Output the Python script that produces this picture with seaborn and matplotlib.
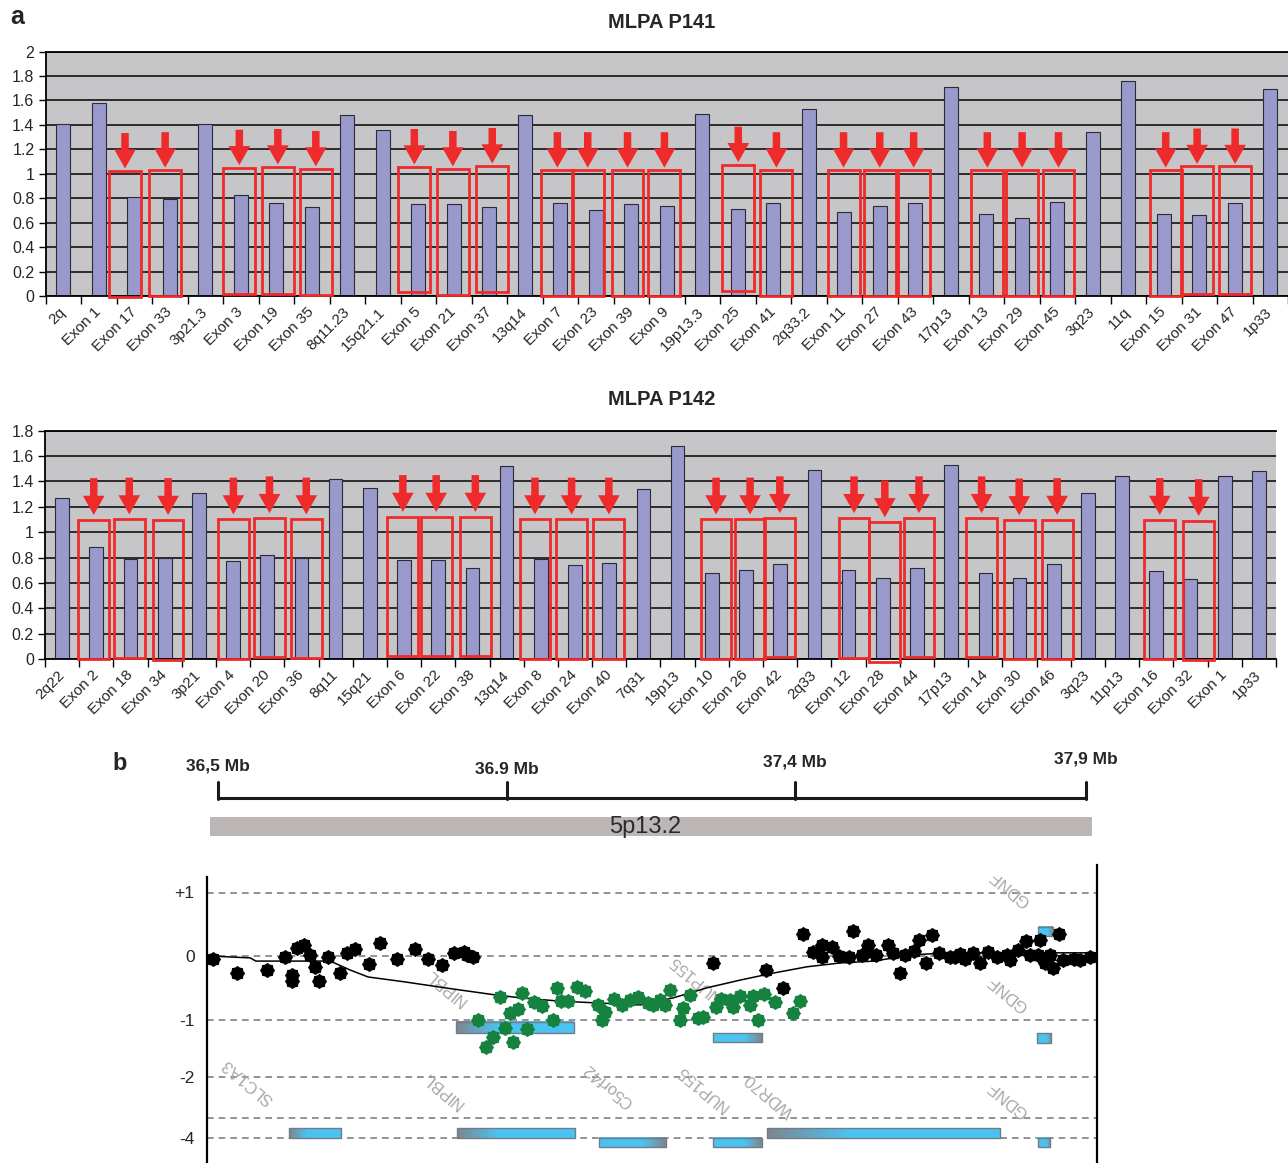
import numpy as np
import pandas as pd
import matplotlib
matplotlib.use('Agg')
import matplotlib.pyplot as plt
import matplotlib.colors as mcolors
from matplotlib.patches import Rectangle
import seaborn as sns

sns.set_theme(style='white')
plt.rcParams['font.family'] = ['Liberation Sans', 'DejaVu Sans']

# ---------------- data: panel a, MLPA P141 ----------------
p141_labels = ['2q', 'Exon 1', 'Exon 17', 'Exon 33', '3p21.3', 'Exon 3', 'Exon 19', 'Exon 35',
               '8q11.23', '15q21.1', 'Exon 5', 'Exon 21', 'Exon 37', '13q14', 'Exon 7', 'Exon 23',
               'Exon 39', 'Exon 9', '19p13.3', 'Exon 25', 'Exon 41', '2q33.2', 'Exon 11', 'Exon 27',
               'Exon 43', '17p13', 'Exon 13', 'Exon 29', 'Exon 45', '3q23', '11q', 'Exon 15',
               'Exon 31', 'Exon 47', '1p33']
p141_values = [1.41, 1.58, 0.81, 0.79, 1.41, 0.83, 0.76, 0.73, 1.48, 1.36, 0.75, 0.75, 0.73, 1.48,
               0.76, 0.70, 0.75, 0.74, 1.49, 0.71, 0.76, 1.53, 0.69, 0.74, 0.76, 1.71, 0.67, 0.64,
               0.77, 1.34, 1.76, 0.67, 0.66, 0.76, 1.69]
# probes flagged with a red frame and arrow
p141_flag = ['Exon 17', 'Exon 33', 'Exon 3', 'Exon 19', 'Exon 35', 'Exon 5', 'Exon 21', 'Exon 37',
             'Exon 7', 'Exon 23', 'Exon 39', 'Exon 9', 'Exon 25', 'Exon 41', 'Exon 11', 'Exon 27',
             'Exon 43', 'Exon 13', 'Exon 29', 'Exon 45', 'Exon 15', 'Exon 31', 'Exon 47']
p141_flag_shift = [-0.26, -0.13, -0.04, 0.045, 0.115, -0.11, -0.025, 0.085, -0.08, -0.225, -0.105,
                   -0.065, 0.015, 0.09, -0.02, 0.0, -0.045, 0.03, 0.01, 0.035, 0.055, -0.06, 0.01]
p141_flag_top = [1.023, 1.03, 1.05, 1.056, 1.04, 1.056, 1.04, 1.064, 1.03, 1.03, 1.03, 1.03, 1.075,
                 1.03, 1.03, 1.03, 1.03, 1.03, 1.03, 1.03, 1.03, 1.06, 1.06]
p141_flag_bottom = [-0.01, 0.0, 0.02, 0.02, 0.01, 0.03, 0.01, 0.03, 0.0, 0.0, 0.0, 0.0, 0.04, 0.0,
                    0.0, 0.0, 0.0, 0.0, 0.0, 0.0, 0.0, 0.02, 0.02]

# ---------------- data: panel a, MLPA P142 ----------------
p142_labels = ['2q22', 'Exon 2', 'Exon 18', 'Exon 34', '3p21', 'Exon 4', 'Exon 20', 'Exon 36', '8q11',
               '15q21', 'Exon 6', 'Exon 22', 'Exon 38', '13q14', 'Exon 8', 'Exon 24', 'Exon 40', '7q31',
               '19p13', 'Exon 10', 'Exon 26', 'Exon 42', '2q33', 'Exon 12', 'Exon 28', 'Exon 44',
               '17p13', 'Exon 14', 'Exon 30', 'Exon 46', '3q23', '11p13', 'Exon 16', 'Exon 32',
               'Exon 1', '1p33']
p142_values = [1.27, 0.88, 0.79, 0.80, 1.31, 0.77, 0.82, 0.80, 1.42, 1.35, 0.78, 0.78, 0.72, 1.52,
               0.79, 0.74, 0.76, 1.34, 1.68, 0.68, 0.70, 0.75, 1.49, 0.70, 0.64, 0.72, 1.53, 0.68,
               0.64, 0.75, 1.31, 1.44, 0.69, 0.63, 1.44, 1.48]
p142_flag = ['Exon 2', 'Exon 18', 'Exon 34', 'Exon 4', 'Exon 20', 'Exon 36', 'Exon 6', 'Exon 22',
             'Exon 38', 'Exon 8', 'Exon 24', 'Exon 40', 'Exon 10', 'Exon 26', 'Exon 42', 'Exon 12',
             'Exon 28', 'Exon 44', 'Exon 14', 'Exon 30', 'Exon 46', 'Exon 16', 'Exon 32']
p142_flag_shift = [-0.075, -0.035, 0.10, 0.01, 0.065, 0.14, -0.035, -0.06, 0.085, -0.17, -0.10, -0.01,
                   0.125, 0.12, -0.01, 0.16, 0.06, 0.06, -0.11, -0.01, 0.10, 0.10, 0.24]
p142_flag_top = [1.096, 1.10, 1.096, 1.10, 1.11, 1.10, 1.12, 1.12, 1.12, 1.10, 1.10, 1.10, 1.10, 1.10,
                 1.11, 1.11, 1.077, 1.11, 1.11, 1.093, 1.096, 1.096, 1.088]
p142_flag_bottom = [0.0, 0.005, -0.01, 0.0, 0.013, 0.008, 0.024, 0.024, 0.024, 0.0, 0.0, 0.0, 0.0, 0.0,
                    0.013, 0.008, -0.02, 0.013, 0.018, -0.003, -0.003, 0.0, -0.008]

# ---------------- data: panel b, 5p13.2 array CGH ----------------
scale_pos = [36.5, 36.966, 37.431, 37.9]
scale_text = ['36,5 Mb', '36.9 Mb', '37,4 Mb', '37,9 Mb']

normal_mb = [36.492, 36.530, 36.579, 36.608, 36.619, 36.619, 36.627, 36.638, 36.648, 36.656, 36.663,
             36.678, 36.697, 36.708, 36.721, 36.744, 36.762, 36.789, 36.818, 36.839, 36.861, 36.880,
             36.896, 36.901, 36.912,
             37.298, 37.384, 37.412, 37.444, 37.459, 37.474, 37.491, 37.502, 37.518, 37.525, 37.538,
             37.549, 37.546, 37.562, 37.581, 37.589, 37.600, 37.623, 37.631, 37.651, 37.642, 37.663,
             37.680, 37.697, 37.705, 37.718, 37.729, 37.742, 37.756, 37.772, 37.791, 37.804, 37.826,
             37.810, 37.823, 37.834, 37.847, 37.857, 37.863, 37.880, 37.906, 37.608, 37.689, 37.777,
             37.842, 37.890, 37.474]
normal_ratio = [-0.05, -0.27, -0.22, -0.02, -0.30, -0.40, 0.12, 0.17, 0.02, -0.17, -0.39,
                -0.02, -0.26, 0.04, 0.11, -0.13, 0.20, -0.05, 0.11, -0.05, -0.14, 0.04,
                0.07, 0.02, -0.02,
                -0.11, -0.22, -0.51, 0.35, 0.07, -0.01, 0.14, 0.00, -0.02, 0.40, 0.02,
                0.17, 0.07, 0.02, 0.17, 0.05, -0.27, 0.08, 0.25, 0.33, -0.11, 0.05,
                -0.02, 0.03, -0.05, 0.04, -0.11, 0.07, -0.02, 0.02, 0.09, 0.23, 0.25,
                0.02, 0.02, -0.11, -0.19, 0.35, -0.06, -0.04, -0.01, 0.02, -0.02, -0.06,
                0.02, -0.06, 0.17]

loss_mb = [36.955, 36.920, 36.971, 36.984, 36.991, 37.009, 37.022, 36.963, 36.998, 36.943, 36.932,
           36.976, 37.040, 37.046, 37.079, 37.092, 37.054, 37.065, 37.113, 37.124, 37.120, 37.138,
           37.151, 37.165, 37.178, 37.194, 37.202, 37.221, 37.229, 37.213, 37.250, 37.245, 37.261,
           37.282, 37.275, 37.304, 37.312, 37.331, 37.326, 37.342, 37.358, 37.363, 37.380, 37.371,
           37.398, 37.427, 37.439]
loss_ratio = [-0.64, -1.01, -0.90, -0.84, -0.58, -0.72, -0.79, -1.14, -1.15, -1.28, -1.43,
              -1.35, -1.01, -0.51, -0.49, -0.55, -0.71, -0.71, -0.77, -0.88, -1.00, -0.67,
              -0.77, -0.69, -0.64, -0.74, -0.77, -0.77, -0.54, -0.69, -0.82, -1.00, -0.61,
              -0.96, -0.98, -0.81, -0.67, -0.80, -0.69, -0.63, -0.77, -0.63, -0.60, -1.01,
              -0.72, -0.89, -0.71]

trend_mb = [36.487, 36.552, 36.561, 36.681, 36.713, 36.742, 36.803, 36.865, 36.945, 36.989, 37.050,
            37.113, 37.181, 37.234, 37.289, 37.342, 37.395, 37.450, 37.503, 37.558, 37.621, 37.682,
            37.918]
trend_ratio = [0.0, -0.03, -0.08, -0.08, -0.22, -0.33, -0.41, -0.50, -0.61, -0.66, -0.71,
               -0.74, -0.77, -0.66, -0.50, -0.38, -0.27, -0.17, -0.11, -0.08, 0.02, 0.05, 0.05]

gene_start = [36.884, 37.298, 37.821, 37.823, 36.615, 36.885, 37.115, 37.298, 37.385, 37.822]
gene_end = [37.074, 37.377, 37.844, 37.847, 36.698, 37.075, 37.222, 37.377, 37.761, 37.842]
gene_low = [-1.213, -1.354, -1.370, 0.315, -2.866, -2.866, -3.008, -3.008, -2.866, -3.008]
gene_high = [-1.039, -1.213, -1.213, 0.457, -2.709, -2.709, -2.866, -2.866, -2.709, -2.866]
gene_gray_left = [True, False, False, False, True, True, False, False, True, False]

gene_label = ['NIPBL', 'NUP155', 'GDNF', 'GDNF', 'GDNF', 'SLC1A3', 'NIPBL', 'C5orf42', 'NUP155', 'WDR70']
gene_label_mb = [36.868, 37.269, 37.777, 37.774, 37.774, 36.548, 36.863, 37.129, 37.281, 37.390]
gene_label_ratio = [-0.49, -0.35, 1.07, -0.58, -2.25, -1.98, -2.11, -2.03, -2.08, -2.19]

ratio_ticks = [1, 0, -1, -1.906, -2.866]
ratio_tick_text = ['+1', '0', '-1', '-2', '-4']
ratio_dashed = [1, 0, -1, -1.906, -2.551, -2.866]

# ---------------- layout helpers (pixel -> figure fraction) ----------------
W, H = 1288, 1163
RED = '#EE2A2A'
BAR = '#9999CC'


def box(x0, y0, x1, y1):
    return [x0 / W, 1 - y1 / H, (x1 - x0) / W, (y1 - y0) / H]


fig = plt.figure(figsize=(W / 100, H / 100), dpi=100)


def mlpa_panel(rect, labels, values, ymax, flag, shift, top, bottom, tail, gap, title, title_y):
    ax = fig.add_axes(rect)
    df = pd.DataFrame({'probe': labels, 'ratio': values})
    sns.barplot(data=df, x='probe', y='ratio', order=labels, color=BAR, saturation=1,
                width=0.4, edgecolor='#2a2a3a', linewidth=0.8, ax=ax, zorder=2)
    n = len(labels)
    ax.set_xlim(-0.5, n - 0.5)
    ax.set_ylim(0, ymax)
    ax.set_facecolor('#C6C6C8')
    ticks = np.round(np.arange(0, ymax + 0.01, 0.2), 1)
    ax.set_yticks(ticks)
    ax.set_yticklabels([f'{v:g}' for v in ticks], fontsize=11.5)
    ax.yaxis.grid(True, color='#111111', lw=1.2)
    ax.set_axisbelow(True)
    ax.set_xticks(range(n))
    ax.set_xticklabels(labels, rotation=45, ha='right', va='center', rotation_mode='anchor', fontsize=11)
    ax.set_xticks(np.arange(n + 1) - 0.5, minor=True)
    ax.tick_params(axis='x', which='major', length=0, pad=10)
    ax.tick_params(axis='x', which='minor', bottom=True, length=6, width=1, direction='out', color='black')
    ax.tick_params(axis='y', left=True, length=5, width=1, direction='out', color='black', pad=3)
    ax.set_xlabel('')
    ax.set_ylabel('')
    for s in ['left', 'bottom', 'top']:
        ax.spines[s].set_color('black')
        ax.spines[s].set_linewidth(1.3)
    ax.spines['right'].set_visible(False)

    for name, dx, t, b in zip(flag, shift, top, bottom):
        xc = labels.index(name) + dx
        ax.add_patch(Rectangle((xc - 0.45, b), 0.9, t - b, fill=False, ec=RED, lw=2.0,
                               zorder=4, clip_on=False))
        ax.annotate('', xy=(xc, t + gap), xytext=(xc, t + gap + tail),
                    arrowprops=dict(arrowstyle='simple,head_width=1.3,head_length=1.15,tail_width=0.45',
                                    color=RED, lw=0, shrinkA=0, shrinkB=0),
                    annotation_clip=False, zorder=5)
    fig.text(662 / W, 1 - title_y / H, title, ha='center', va='center', fontsize=14.5, fontweight='bold')
    return ax


mlpa_panel(box(45.5, 51.5, 1288, 296), p141_labels, p141_values, 2.0, p141_flag, p141_flag_shift,
           p141_flag_top, p141_flag_bottom, 0.29, 0.02, 'MLPA P141', 22)
mlpa_panel(box(45, 430.7, 1276, 659), p142_labels, p142_values, 1.8, p142_flag, p142_flag_shift,
           p142_flag_top, p142_flag_bottom, 0.29, 0.04, 'MLPA P142', 400)

fig.text(17 / W, 1 - 17 / H, 'a', ha='center', va='center', fontsize=18, fontweight='bold')
fig.text(120 / W, 1 - 764 / H, 'b', ha='center', va='center', fontsize=17, fontweight='bold')

# ---------------- panel b ----------------
def mb(px):
    return 36.5 + (px - 218) / 620.0


def ratio(py):
    return (956 - py) / 63.5


xl = (mb(207), mb(1097))

# scale bar + cytoband
ax_s = fig.add_axes(box(207, 745, 1097, 845))
ax_s.set_xlim(xl)
ax_s.set_ylim(0, 1)
ax_s.axis('off')
ax_s.plot([scale_pos[0], scale_pos[-1]], [0.47, 0.47], color='#1a1a1a', lw=2.2,
          solid_capstyle='butt', clip_on=False)
label_y = [0.79, 0.76, 0.83, 0.86]
for p, t, ly in zip(scale_pos, scale_text, label_y):
    ax_s.plot([p, p], [0.46, 0.63], color='#1a1a1a', lw=2.2, clip_on=False)
    ax_s.text(p, ly, t, ha='center', va='center', fontsize=12.5, fontweight='bold', clip_on=False)
ax_s.add_patch(Rectangle((mb(210), 0.09), mb(1092) - mb(210), 0.19, color='#BDB6B6', lw=0))
ax_s.text(mb(645), 0.185, '5p13.2', ha='center', va='center', fontsize=17, color='#2a2a2a')

# log-ratio track
ax_b = fig.add_axes(box(207, 865, 1097, 1163))
ax_b.set_xlim(xl)
ax_b.set_ylim(ratio(1163), ratio(865))
ax_b.set_facecolor('white')
for s in ['top', 'bottom']:
    ax_b.spines[s].set_visible(False)
for s in ['left', 'right']:
    ax_b.spines[s].set_color('black')
    ax_b.spines[s].set_linewidth(1.6)
ax_b.spines['left'].set_bounds(ratio(1163), ratio(877))
ax_b.set_xticks([])
ax_b.set_yticks(ratio_ticks)
ax_b.set_yticklabels(ratio_tick_text, fontsize=12.5)
ax_b.tick_params(axis='y', left=False, length=0, pad=9)
for lvl in ratio_dashed:
    ax_b.axhline(lvl, color='#808080', lw=1.2, dashes=(4, 3), zorder=1)

gray = np.array(mcolors.to_rgb('#7E8690'))
blue = np.array(mcolors.to_rgb('#4BC3F2'))
for x0, x1, lo, hi, gl in zip(gene_start, gene_end, gene_low, gene_high, gene_gray_left):
    t = np.linspace(0, 1, 80)
    w = np.clip(t / 0.35, 0, 1)
    if not gl:
        w = w[::-1]
    rgb = gray[None, :] * (1 - w)[:, None] + blue[None, :] * w[:, None]
    ax_b.imshow(rgb[None, :, :], extent=(x0, x1, lo, hi), aspect='auto', zorder=2,
                interpolation='bilinear')
    ax_b.add_patch(Rectangle((x0, lo), x1 - x0, hi - lo, fill=False, ec='#737B85', lw=1.0, zorder=2.1))

for name, x, y in zip(gene_label, gene_label_mb, gene_label_ratio):
    ax_b.text(x, y, name, rotation=140, ha='center', va='center', fontsize=12,
              color='#A8A8A8', zorder=1.5)

sns.lineplot(x=trend_mb, y=trend_ratio, sort=False, estimator=None, color='black', lw=1.1,
             ax=ax_b, zorder=3)

# rounded "cog" blob marker like the array-CGH software uses
ang = np.linspace(0, 2 * np.pi, 17)[:-1]
rad = np.where(np.arange(16) % 2 == 0, 1.0, 0.84)
blob = np.column_stack([rad * np.cos(ang), rad * np.sin(ang)])
sns.scatterplot(x=normal_mb, y=normal_ratio, marker=blob, s=120, color='black', linewidth=0,
                ax=ax_b, zorder=4)
sns.scatterplot(x=loss_mb, y=loss_ratio, marker=blob, s=120, color='#168240', linewidth=0,
                ax=ax_b, zorder=4)
ax_b.set_xlim(xl)
ax_b.set_ylim(ratio(1163), ratio(865))
ax_b.set_xlabel('')
ax_b.set_ylabel('')

fig.savefig('out.png', dpi=100)
